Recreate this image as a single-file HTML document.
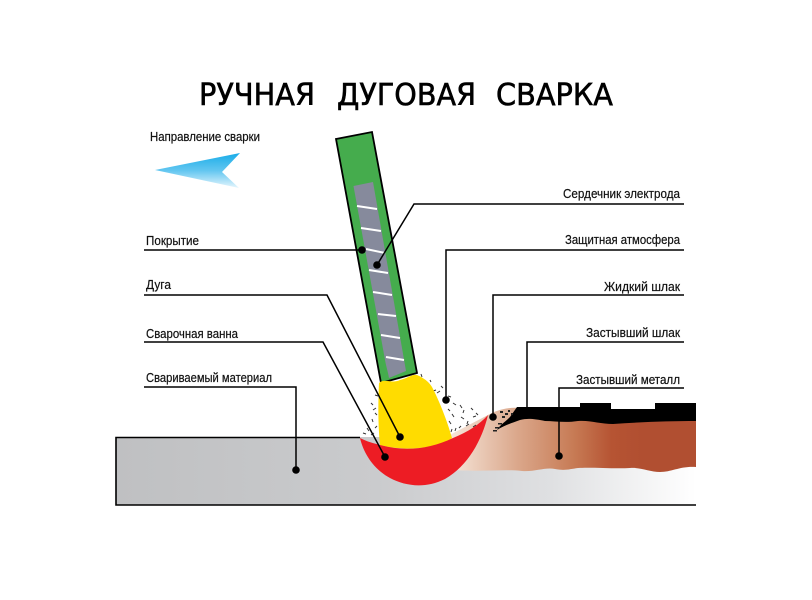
<!DOCTYPE html>
<html>
<head>
<meta charset="utf-8">
<style>
html,body{margin:0;padding:0;background:#fff}
svg{display:block}
.t{font-family:"Liberation Sans",sans-serif;font-size:12.500px;fill:#111;stroke:#111;stroke-width:0.200px}
.h{font-family:"DejaVu Sans",sans-serif;font-size:30px;fill:#000;stroke:#000;stroke-width:0.600px}
.l{fill:none;stroke:#000;stroke-width:1.500}
</style>
</head>
<body>
<svg width="812" height="600" viewBox="0 0 812 600" xmlns="http://www.w3.org/2000/svg">
<defs>
<linearGradient id="gr" x1="116" x2="696" y1="0" y2="0" gradientUnits="userSpaceOnUse">
<stop offset="0" stop-color="#bfc0c2"/><stop offset="0.45" stop-color="#cacbcd"/><stop offset="0.75" stop-color="#dfe0e2"/><stop offset="1" stop-color="#fff"/>
</linearGradient>
<linearGradient id="me" x1="450" x2="640" y1="0" y2="0" gradientUnits="userSpaceOnUse">
<stop offset="0" stop-color="#f6e6da"/><stop offset="0.35" stop-color="#dba88c"/><stop offset="0.65" stop-color="#c77b55"/><stop offset="0.85" stop-color="#b65433"/><stop offset="1" stop-color="#b14f31"/>
</linearGradient>
<linearGradient id="ar" x1="0" x2="0" y1="153" y2="188" gradientUnits="userSpaceOnUse">
<stop offset="0" stop-color="#19ace8"/><stop offset="0.5" stop-color="#62c6f0"/><stop offset="1" stop-color="#e6f6fd"/>
</linearGradient>
</defs>

<text class="h" x="199" y="105" textLength="116" lengthAdjust="spacingAndGlyphs">РУЧНАЯ</text>
<text class="h" x="337" y="105" textLength="139" lengthAdjust="spacingAndGlyphs">ДУГОВАЯ</text>
<text class="h" x="496" y="105" textLength="117" lengthAdjust="spacingAndGlyphs">СВАРКА</text>

<text class="t" x="150" y="141" textLength="110" lengthAdjust="spacingAndGlyphs">Направление сварки</text>
<polygon points="155,170 240,153 222,172 239,188" fill="url(#ar)"/>

<!-- base metal -->
<rect x="116" y="437" width="580" height="68" fill="url(#gr)"/>
<path d="M488,415 C497,410 508,407 520,408 L696,412 L696,467 C680,466 672,472 660,472 C650,472 640,467 630,468 C615,469 590,467 578,468 C570,469 565,471 555,469 C545,467 535,472 522,471 C505,469 480,472 455,470 L440,440 Z" fill="url(#me)"/>
<path class="l" d="M360,437.500 H116 V505 H696" style="stroke-width:1.600"/>

<!-- slag -->
<path d="M517,407 H580 V403 H611 V409 H655 V403 H696 V421 C670,421 640,422 613,424 C600,424 590,420 578,421 C565,423 555,421 545,421 C535,419 528,418 520,420 C512,423 505,425 497,430 C500,425 505,422 510,417 Z" fill="#000"/>
<g fill="#222">
<rect x="500" y="411" width="3" height="2"/><rect x="505" y="413" width="3" height="2"/><rect x="502" y="416" width="3" height="2"/><rect x="508" y="410" width="2" height="2"/><rect x="498" y="423" width="4" height="1.500"/><rect x="495" y="427" width="5" height="1.500"/><rect x="493" y="430" width="4" height="1.500"/><rect x="511" y="413" width="2" height="2"/>
</g>

<!-- electrode -->
<polygon points="336,139 372,132 417,373 381,383" fill="#45ac4d" stroke="#000" stroke-width="1.800" stroke-linejoin="miter"/>
<path d="M353.500,186 L373,182 L406,371 L389,378 C388,372 386,366 385,360 Z" fill="#868a9c"/>
<g stroke="#fff" stroke-width="2">
<line x1="357" y1="206" x2="377" y2="209"/>
<line x1="361" y1="228" x2="381" y2="231"/>
<line x1="366" y1="249" x2="385" y2="253"/>
<line x1="369" y1="270" x2="388" y2="273"/>
<line x1="373" y1="292" x2="392" y2="295"/>
<line x1="378" y1="314" x2="396" y2="316"/>
<line x1="381" y1="335" x2="400" y2="338"/>
<line x1="386" y1="357" x2="404" y2="360"/>
</g>

<!-- atmosphere speckles -->
<g stroke="#333" stroke-width="1">
<path d="M421,374l1,3M423,382l1,3M430,380l1,2M433,391l3,-1M437,393l3,-2M441,386l2,2M448,396l3,1M453,403l3,2M460,405l2,3M464,410l-1,3M471,408l2,2M476,413l2,2M473,417l3,-1M468,421l-1,3M461,417l3,2M452,414l2,3M448,409l2,2M449,421l2,3M459,428l2,-2M466,426l3,-2M455,431l1,-3M443,420l2,3M476,425l-3,2M470,431l-4,2M452,429l-1,3M375,395l3,1M371,403l2,2M373,410l3,-2M372,419l1,3M377,426l-2,2M367,428l2,3M374,433l-3,2M363,433l3,1M377,415l-2,-2"/>
</g>

<!-- arc -->
<path d="M379,383 C384,378 392,384 400,380 C408,378 412,374 417,375 C424,378 429,382 432,387 C438,398 447,420 452,438 C440,448 405,452 380,445 C378,425 378,405 379,383 Z" fill="#ffdc00"/>

<!-- weld pool -->
<path d="M360,438 C368,442 373,443 380,445 C405,452 430,449 453,438 C468,432 480,424 488,415 C482,440 468,466 445,479 C425,489 405,486 390,478 C375,470 364,455 360,438 Z" fill="#ed1c24"/>

<!-- leaders -->
<path class="l" d="M144,250 H362"/>
<path class="l" d="M144,295 H327 L400,437"/>
<path class="l" d="M144,342 H323 L385,457"/>
<path class="l" d="M144,387 H296 V470"/>
<path class="l" d="M684,204 H414 L377,265"/>
<path class="l" d="M684,250 H446 V400"/>
<path class="l" d="M684,295 H493 V417"/>
<path class="l" d="M684,342 H527 V407"/>
<path class="l" d="M684,388 H559 V456"/>
<g fill="#000">
<circle cx="362" cy="250" r="3.800"/>
<circle cx="400" cy="437" r="3.800"/>
<circle cx="385" cy="457" r="3.800"/>
<circle cx="296" cy="470" r="3.800"/>
<circle cx="377" cy="265" r="3.800"/>
<circle cx="446" cy="400" r="3.800"/>
<circle cx="493" cy="417" r="3.800"/>
<circle cx="559" cy="456" r="3.800"/>
</g>

<text class="t" x="146" y="245" textLength="53" lengthAdjust="spacingAndGlyphs">Покрытие</text>
<text class="t" x="146" y="289" textLength="25" lengthAdjust="spacingAndGlyphs">Дуга</text>
<text class="t" x="146" y="338" textLength="92" lengthAdjust="spacingAndGlyphs">Сварочная ванна</text>
<text class="t" x="146" y="382" textLength="126" lengthAdjust="spacingAndGlyphs">Свариваемый материал</text>
<text class="t" x="563" y="198" textLength="117" lengthAdjust="spacingAndGlyphs">Сердечник электрода</text>
<text class="t" x="565" y="244" textLength="115" lengthAdjust="spacingAndGlyphs">Защитная атмосфера</text>
<text class="t" x="604" y="291" textLength="76" lengthAdjust="spacingAndGlyphs">Жидкий шлак</text>
<text class="t" x="586" y="337" textLength="94" lengthAdjust="spacingAndGlyphs">Застывший шлак</text>
<text class="t" x="576" y="384" textLength="104" lengthAdjust="spacingAndGlyphs">Застывший металл</text>
</svg>
</body>
</html>
